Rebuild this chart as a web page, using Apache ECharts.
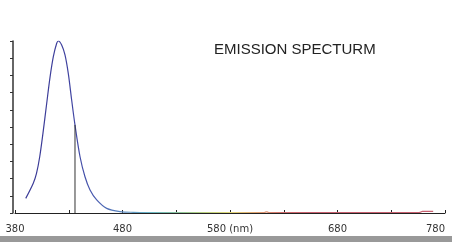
<!DOCTYPE html>
<html><head><meta charset="utf-8">
<script src="https://cdn.jsdelivr.net/npm/echarts@6/dist/echarts.min.js"></script>
<style>html,body{margin:0;padding:0;background:#fff;overflow:hidden}#c{width:452px;height:242px}</style>
</head><body><div id="c"></div>
<script>
// Emission spectrum (wavelength in nm, relative intensity)
var wavelengths = [390, 397, 400, 403, 406, 409.5, 412.6, 415.7, 418.8, 420.3, 423.4, 426.5, 429.6, 432.7, 435.8, 440.5, 445.1, 449.8, 456, 465.3, 477.7, 490, 505, 530, 560, 590, 612, 614, 616, 650, 700, 740, 756, 759, 769];
var intensity   = [0.085, 0.173, 0.23, 0.327, 0.463, 0.638, 0.79, 0.91, 0.987, 1.0, 0.977, 0.919, 0.81, 0.657, 0.512, 0.327, 0.211, 0.134, 0.076, 0.027, 0.008, 0.004, 0.003, 0.003, 0.003, 0.003, 0.003, 0.007, 0.003, 0.003, 0.003, 0.003, 0.003, 0.009, 0.009];
var markerWavelength = [435.8, 435.8];
var markerIntensity  = [0, 0.512];
var xTickLabels = {380: '380', 480: '480', 580: '580 (nm)', 680: '680', 780: '780'};
var titleText = 'EMISSION SPECTURM';

var spectrum = wavelengths.map(function (w, i) { return [w, intensity[i]]; });
var marker = markerWavelength.map(function (w, i) { return [w, markerIntensity[i]]; });

var chart = echarts.init(document.getElementById('c'), null, {renderer: 'canvas'});
chart.setOption({
  animation: false,
  backgroundColor: '#fff',
  title: {
    text: titleText, left: 214, top: 42, padding: 0,
    textStyle: {fontFamily: 'Liberation Sans', fontSize: 15, fontWeight: 'normal', color: '#222'}
  },
  grid: {left: 15, right: 7, top: 41, bottom: 29},
  xAxis: {
    type: 'value', min: 380, max: 780, interval: 50, offset: 6,
    axisLine: {lineStyle: {color: '#222', width: 1}},
    axisTick: {inside: true, length: 3, lineStyle: {color: '#222'}},
    splitLine: {show: false},
    axisLabel: {
      margin: 5, color: '#333', fontFamily: 'DejaVu Sans', fontSize: 10,
      formatter: function (v) { return xTickLabels[v] || ''; },
      alignMaxLabel: 'right'
    }
  },
  yAxis: {
    type: 'value', min: 0, max: 1, interval: 0.1, offset: 2,
    axisLine: {show: true, lineStyle: {color: '#333', width: 1.5}},
    axisTick: {show: true, length: 3, lineStyle: {color: '#333'}},
    axisLabel: {show: false},
    splitLine: {show: false}
  },
  visualMap: {
    type: 'continuous', show: false, seriesIndex: 0, dimension: 0, min: 380, max: 780,
    inRange: {color: ['#3c3c98', '#3c3c98', '#3f42a0', '#4a5cb0', '#5a88c0', '#6cb8c8', '#88c4a0', '#b8d080', '#e0d878', '#e0a070', '#d06a6c', '#c86070', '#c86070', '#c86070', '#c86070', '#c86070', '#c86070']}
  },
  graphic: {
    elements: [{
      type: 'rect', shape: {x: 0, y: 236, width: 452, height: 6},
      style: {fill: '#999999'}, silent: true, z: 100
    }]
  },
  series: [
    {type: 'line', data: spectrum, showSymbol: false, smooth: 0.3, lineStyle: {width: 1.2}},
    {type: 'line', data: marker, showSymbol: false, lineStyle: {width: 1, color: '#333'}, itemStyle: {color: '#333'}}
  ]
});
</script></body></html>
